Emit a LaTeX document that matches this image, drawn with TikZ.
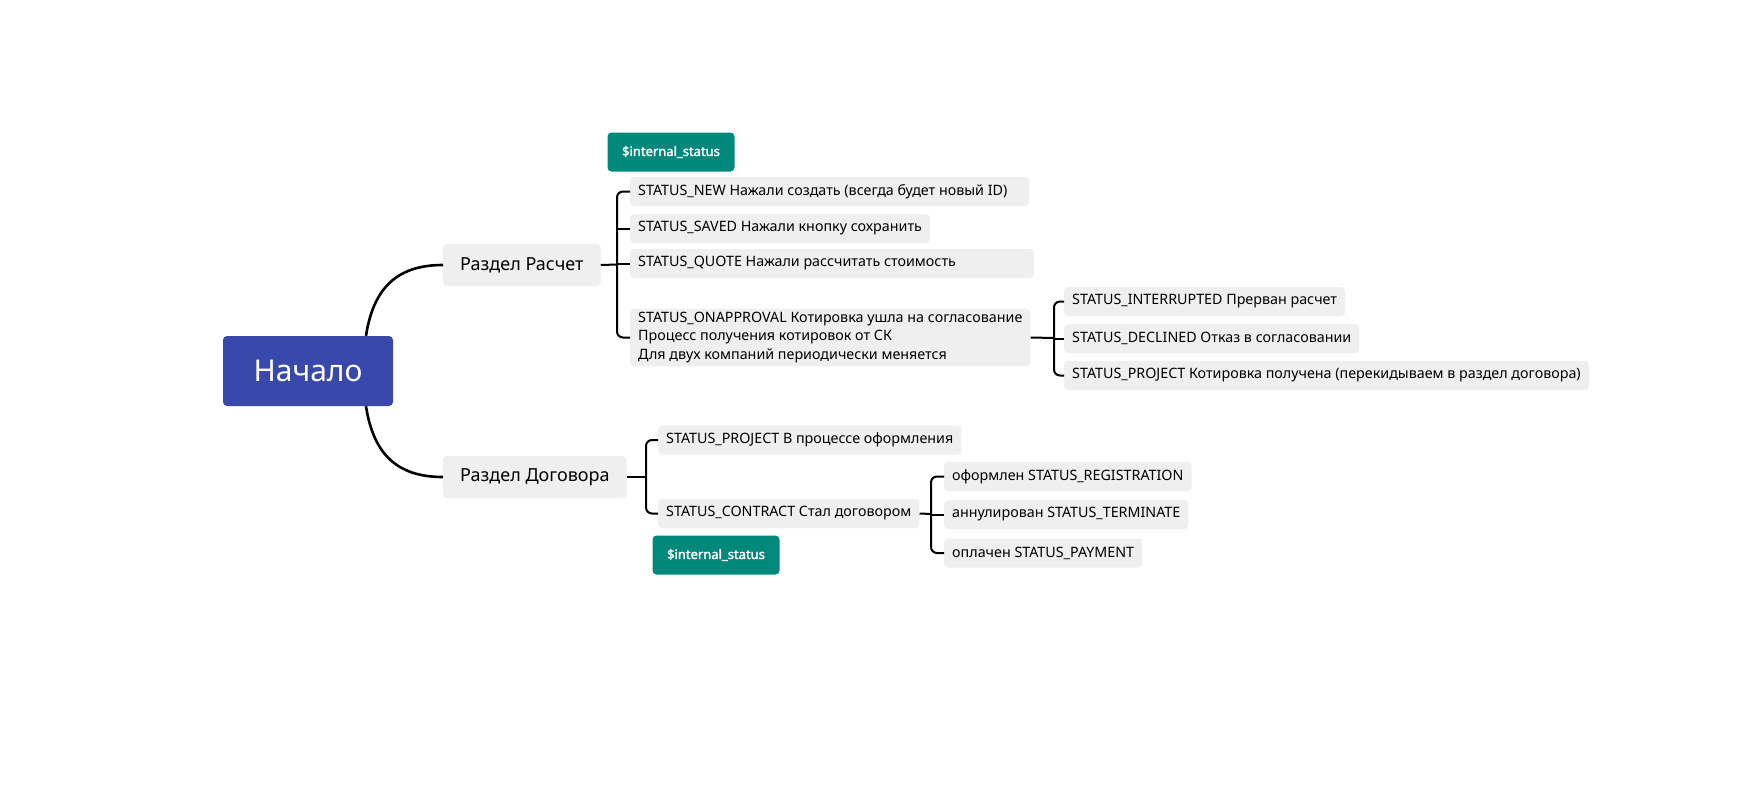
\documentclass[tikz,border=0pt]{standalone}
\usepackage{fontspec}
\setmainfont{Noto Sans}[AutoFakeBold=2]
\usepackage{xcolor}
\usetikzlibrary{positioning}

\definecolor{rootblue}{HTML}{3949AB}
\definecolor{tagteal}{HTML}{00897B}
\definecolor{topicgray}{HTML}{EFEFEF}

\begin{document}
\begin{tikzpicture}[x=1pt,y=-1pt,
    root/.style={fill=rootblue,text=white,rounded corners=4pt,minimum width=170pt,minimum height=70pt,font=\fontsize{30}{36}\selectfont},
    sect/.style={fill=topicgray,rounded corners=4pt,anchor=west,minimum height=42pt,inner xsep=17pt,font=\fontsize{18}{22}\selectfont},
    leaf/.style={fill=topicgray,rounded corners=4pt,anchor=west,minimum height=29pt,inner xsep=8pt,align=left,font=\fontsize{14.3}{18.5}\selectfont},
    tag/.style={fill=tagteal,text=white,rounded corners=4pt,minimum width=127pt,minimum height=39pt,font=\bfseries\fontsize{13}{16}\selectfont},
    main/.style={line width=2.6pt},
    branch/.style={line width=2pt,rounded corners=6pt}]

    \fill[white] (0,0) rectangle (1746,798);
    \useasboundingbox (0,0) rectangle (1746,798);

    % The map
    \node [root] at (308,371) (start) {Начало};
    \node [sect] at (443,265) (calc) {Раздел Расчет};
    \node [sect] at (443,477) (contr) {Раздел Договора};

    % Raschet part
    \node [tag] at (671,152) (tag1) {\$internal\_status};
    \node [leaf] at (630,191.5) (new) {STATUS\_NEW Нажали создать (всегда будет новый ID)\hspace{14pt}};
    \node [leaf] at (630,228.5) (saved) {STATUS\_SAVED Нажали кнопку сохранить};
    \node [leaf] at (630,263.5) (quote) {STATUS\_QUOTE Нажали рассчитать стоимость\hspace{70pt}};
    \node [leaf] at (630,337.5) (onappr) {STATUS\_ONAPPROVAL Котировка ушла на согласование\\Процесс получения котировок от СК\\Для двух компаний периодически меняется};

    \node [leaf] at (1064,301.5) (interr) {STATUS\_INTERRUPTED Прерван расчет};
    \node [leaf] at (1064,338.5) (declin) {STATUS\_DECLINED Отказ в согласовании};
    \node [leaf] at (1064,375.5) (projq) {STATUS\_PROJECT Котировка получена (перекидываем в раздел договора)};

    % Dogovor part
    \node [leaf] at (658,440) (projc) {STATUS\_PROJECT В процессе оформления};
    \node [leaf] at (658,513.5) (contract) {STATUS\_CONTRACT Стал договором};
    \node [tag] at (716,555) (tag2) {\$internal\_status};

    \node [leaf] at (944,476.5) (regis) {оформлен STATUS\_REGISTRATION};
    \node [leaf] at (944,514.5) (termin) {аннулирован STATUS\_TERMINATE};
    \node [leaf] at (944,553) (paid) {оплачен STATUS\_PAYMENT};

    \coordinate (j1) at (617,264.5);
    \coordinate (j2) at (646,477);
    \coordinate (j3) at (1054,338);
    \coordinate (j4) at (931,514);

    % Map edges
    \draw [main] ([xshift=58pt]start.north) .. controls +(8,-52) and +(-42,0) .. (calc.west);
    \draw [main] ([xshift=58pt]start.south) .. controls +(8,52) and +(-42,0) .. (contr.west);

    \draw [branch] (calc.east) -- (j1);
    \draw [branch] (j1) |- (new.west);
    \draw [branch] (j1) |- (onappr.west);
    \draw [branch] (saved.west -| j1) -- (saved.west);
    \draw [branch] (quote.west -| j1) -- (quote.west);

    \draw [branch] (onappr.east) -- (j3);
    \draw [branch] (j3) |- (interr.west);
    \draw [branch] (j3) |- (projq.west);
    \draw [branch] (declin.west -| j3) -- (declin.west);

    \draw [branch] (contr.east) -- (j2);
    \draw [branch] (j2) |- (projc.west);
    \draw [branch] (j2) |- (contract.west);

    \draw [branch] (contract.east) -- (j4);
    \draw [branch] (j4) |- (regis.west);
    \draw [branch] (j4) |- (paid.west);
    \draw [branch] (termin.west -| j4) -- (termin.west);

\end{tikzpicture}
\end{document}
